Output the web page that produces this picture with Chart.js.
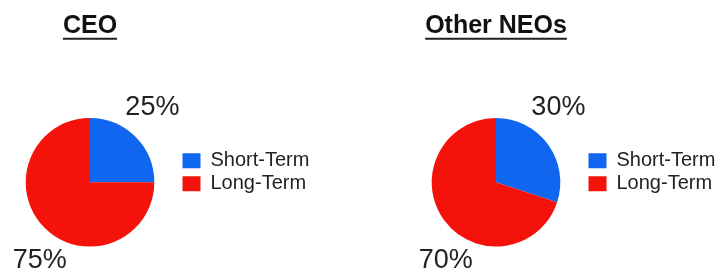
<!DOCTYPE html>
<html>
<head>
<meta charset="utf-8">
<script src="https://cdn.jsdelivr.net/npm/chart.js@4.4.1/dist/chart.umd.min.js"></script>
<style>
    html, body { margin: 0; padding: 0; background: #fff; overflow: hidden; }
    body { width: 717px; height: 268px; position: relative; }
    .pie { position: absolute; top: 0; width: 360px; height: 268px; }
</style>
</head>
<body>
<div class="pie" style="left:0"><canvas id="ceo" width="360" height="268"></canvas></div>
<div class="pie" style="left:406px"><canvas id="neo" width="360" height="268"></canvas></div>
<script>
const categories = ['Short-Term', 'Long-Term'];
const ceoValues = [25, 75];
const neoValues = [30, 70];
const sliceColors = ['#1166f0', '#f5120a'];

const FONT = '"Liberation Sans", Arial, Helvetica, sans-serif';
// where each percent label sits, in pie radii from the centre (text left / baseline)
const labelAnchors = [[0.55, -1.04], [-1.2, 1.34]];

const percentLabels = {
    id: 'percentLabels',
    afterDatasetsDraw(chart) {
        const ctx = chart.ctx;
        const values = chart.data.datasets[0].data;
        const total = values.reduce((a, b) => a + b, 0);
        chart.getDatasetMeta(0).data.forEach((arc, i) => {
            const r = arc.outerRadius;
            const [ax, ay] = labelAnchors[i];
            ctx.save();
            ctx.font = `27px ${FONT}`;
            ctx.fillStyle = '#222';
            ctx.textAlign = 'left';
            ctx.textBaseline = 'alphabetic';
            ctx.fillText(`${Math.round((values[i] / total) * 100)}%`, arc.x + ax * r, arc.y + ay * r);
            ctx.restore();
        });
    },
};

const titleUnderline = {
    id: 'titleUnderline',
    afterDraw(chart) {
        const block = chart.titleBlock;
        const opts = chart.options.plugins.title;
        if (!block || !opts.display) return;
        const size = opts.font.size;
        const ctx = chart.ctx;
        ctx.save();
        ctx.font = `bold ${size}px ${FONT}`;
        const w = ctx.measureText(opts.text).width;
        const cx = (block.left + block.right) / 2;
        const y = block.top + opts.padding.top + (size * opts.font.lineHeight) / 2 + size * 0.45;
        ctx.fillStyle = '#222';
        ctx.fillRect(cx - w / 2, y, w, 2);
        ctx.restore();
    },
};

function buildPie(canvasId, title, values) {
    const canvas = document.getElementById(canvasId);
    return new Chart(canvas.getContext('2d'), {
        type: 'pie',
        data: {
            labels: categories,
            datasets: [
                {
                    data: values,
                    backgroundColor: sliceColors,
                    borderWidth: 0,
                },
            ],
        },
        options: {
            responsive: false,
            animation: false,
            layout: {
                padding: { left: 0.5, right: 50.5, top: 0, bottom: 21.4 },
            },
            plugins: {
                title: {
                    display: true,
                    text: title,
                    fullSize: false,
                    color: '#111',
                    font: { family: FONT, size: 25, weight: 'bold', lineHeight: 1.2 },
                    padding: { top: 11.5, bottom: 76.5 },
                },
                legend: {
                    position: 'right',
                    align: 'start',
                    fullSize: false,
                    maxWidth: 130,
                    title: {
                        display: true,
                        text: '',
                        font: { size: 12, lineHeight: 1.2 },
                        padding: { top: 15.4, bottom: 0 },
                    },
                    labels: {
                        boxWidth: 18,
                        boxHeight: 15,
                        padding: 3,
                        color: '#222',
                        font: { family: FONT, size: 20 },
                    },
                },
                tooltip: { enabled: false },
            },
        },
        plugins: [percentLabels, titleUnderline],
    });
}

buildPie('ceo', 'CEO', ceoValues);
buildPie('neo', 'Other NEOs', neoValues);
</script>
</body>
</html>
